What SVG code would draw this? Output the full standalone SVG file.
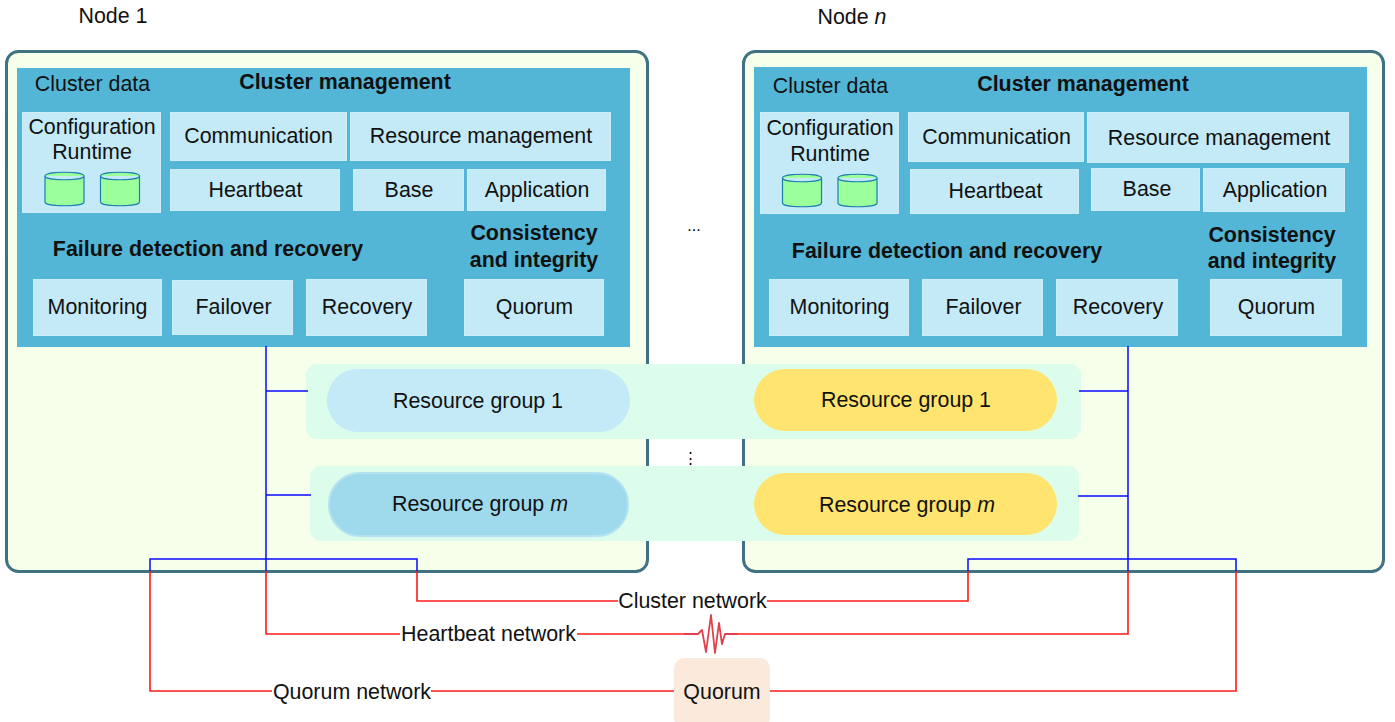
<svg xmlns="http://www.w3.org/2000/svg" width="1395" height="722" viewBox="0 0 1395 722">
<style>
text{font-family:"Liberation Sans",Arial,sans-serif;font-size:21.4px;fill:#111;text-anchor:middle}
.b{font-weight:bold}
.node{fill:#f6ffea;stroke:#3f7384;stroke-width:3}
.panel{fill:#54b6d6}
.box{fill:#c3eaf6;stroke:#cdeef8;stroke-width:1}
.cyl{fill:#9bff9b;stroke:#1b7fb0;stroke-width:1.2}
.band{fill:#ddfdec}
.blue{fill:#c3eaf6}
.blue2{fill:#9fdaec;stroke:#b5e2f1;stroke-width:2}
.yel{fill:#ffe56f}
.bl{fill:none;stroke:#0a0aff;stroke-width:1.5}
.rd{fill:none;stroke:#ff1a1a;stroke-width:1.6}
</style>
<rect width="1395" height="722" fill="#fff"/>
<text x="113" y="23">Node 1</text>
<text x="852" y="24">Node <tspan font-style="italic">n</tspan></text>
<text x="694" y="231" style="font-size:16px;fill:#000">...</text>

<g id="node-1">
<rect class="node" x="6.500" y="51.500" width="641" height="520" rx="12"/>
<rect class="panel" x="17" y="68" width="613" height="279"/>
<text x="92.500" y="91">Cluster data</text>
<text class="b" x="345" y="89">Cluster management</text>
<rect class="box" x="22.500" y="112.500" width="138" height="100"/>
<text x="92" y="134">Configuration</text>
<text x="92" y="159">Runtime</text>
<path class="cyl" d="M45 176c0-5 39-5 39 0v26c0 5-39 5-39 0zM45 176c0 5 39 5 39 0"/>
<path class="cyl" d="M100.500 176c0-5 39-5 39 0v26c0 5-39 5-39 0zM100.500 176c0 5 39 5 39 0"/>
<rect class="box" x="170.500" y="112.500" width="176" height="48"/>
<text x="258.500" y="143">Communication</text>
<rect class="box" x="350.500" y="112.500" width="260" height="48"/>
<text x="481" y="143">Resource management</text>
<rect class="box" x="170.500" y="169.500" width="169" height="41"/>
<text x="255.500" y="197">Heartbeat</text>
<rect class="box" x="353.500" y="169.500" width="110" height="41"/>
<text x="409" y="197">Base</text>
<rect class="box" x="467.500" y="169.500" width="138" height="41"/>
<text x="537" y="197">Application</text>
<text class="b" x="208" y="256">Failure detection and recovery</text>
<text class="b" x="534" y="240">Consistency</text>
<text class="b" x="534" y="267">and integrity</text>
<rect class="box" x="33.500" y="279.500" width="128" height="56"/>
<text x="97.500" y="314">Monitoring</text>
<rect class="box" x="172.500" y="280.500" width="120" height="54"/>
<text x="233.500" y="314">Failover</text>
<rect class="box" x="306.500" y="279.500" width="120" height="56"/>
<text x="367" y="314">Recovery</text>
<rect class="box" x="464.500" y="279.500" width="139" height="56"/>
<text x="534.500" y="314">Quorum</text>
</g>

<g id="node-n">
<rect class="node" x="743.500" y="51.500" width="640" height="520" rx="12"/>
<rect class="panel" x="754" y="67" width="613" height="280"/>
<text x="830.500" y="93">Cluster data</text>
<text class="b" x="1083" y="91">Cluster management</text>
<rect class="box" x="760.500" y="112.500" width="138" height="101"/>
<text x="830" y="135">Configuration</text>
<text x="830" y="161">Runtime</text>
<path class="cyl" d="M782.500 178c0-5 39-5 39 0v25c0 5-39 5-39 0zM782.500 178c0 5 39 5 39 0"/>
<path class="cyl" d="M838 178c0-5 39-5 39 0v25c0 5-39 5-39 0zM838 178c0 5 39 5 39 0"/>
<rect class="box" x="908.500" y="112.500" width="175" height="49"/>
<text x="996.500" y="144">Communication</text>
<rect class="box" x="1087.500" y="112.500" width="261" height="50"/>
<text x="1219" y="145">Resource management</text>
<rect class="box" x="910.500" y="169.500" width="168" height="44"/>
<text x="995.500" y="198">Heartbeat</text>
<rect class="box" x="1091.500" y="168.500" width="108" height="42"/>
<text x="1147" y="196">Base</text>
<rect class="box" x="1203.500" y="168.500" width="141" height="43"/>
<text x="1275" y="197">Application</text>
<text class="b" x="947" y="258">Failure detection and recovery</text>
<text class="b" x="1272" y="242">Consistency</text>
<text class="b" x="1272" y="268">and integrity</text>
<rect class="box" x="769.500" y="279.500" width="139" height="56"/>
<text x="839.500" y="314">Monitoring</text>
<rect class="box" x="922.500" y="279.500" width="120" height="56"/>
<text x="983.500" y="314">Failover</text>
<rect class="box" x="1056.500" y="279.500" width="121" height="56"/>
<text x="1118" y="314">Recovery</text>
<rect class="box" x="1210.500" y="279.500" width="131" height="56"/>
<text x="1276.500" y="314">Quorum</text>
</g>

<g id="resource-groups">
<rect class="band" x="306" y="364" width="775" height="75" rx="11"/>
<rect class="band" x="310" y="466" width="769" height="75" rx="11"/>
<text x="690" y="463" style="font-size:15px;fill:#000">⋮</text>
</g>
<g id="rg1-node1"><rect class="blue" x="327" y="369" width="303" height="63" rx="31"/><text x="478" y="408">Resource group 1</text></g>
<g id="rgm-node1"><rect class="blue2" x="329" y="473" width="299" height="63" rx="31"/><text x="480" y="511">Resource group <tspan font-style="italic">m</tspan></text></g>
<g id="rg1-noden"><rect class="yel" x="754" y="369" width="303" height="62" rx="31"/><text x="906" y="407">Resource group 1</text></g>
<g id="rgm-noden"><rect class="yel" x="754" y="473" width="303" height="62" rx="31"/><text x="907" y="512">Resource group <tspan font-style="italic">m</tspan></text></g>

<g id="connectors">
<path class="bl" d="M266 346V571M266 391H308M266 495H311M150 571V559H417V571"/>
<path class="bl" d="M1128 346V571M1079 391H1128M1078 496H1128M968 571V559H1236V571"/>
<path class="rd" d="M417 571V601H618M767 601H968V571"/>
<path class="rd" d="M266 571V634H400M577 634H684M738 634H1128V571"/>
<path class="rd" d="M150 571V691H272M431 691H674M770 691H1236V571"/>
<path d="M684 634H698L702 630L706 652L711 615L715 653L719 623L722 644L725 634H738" fill="none" stroke="#e0404c" stroke-width="1.800" stroke-linejoin="round"/>
</g>

<g id="quorum"><rect x="674" y="658" width="96" height="70" rx="10" fill="#fbe9dc"/><text x="722" y="699">Quorum</text></g>
<text x="692.500" y="608">Cluster network</text>
<text x="488.500" y="641">Heartbeat network</text>
<text x="352" y="699">Quorum network</text>
</svg>
